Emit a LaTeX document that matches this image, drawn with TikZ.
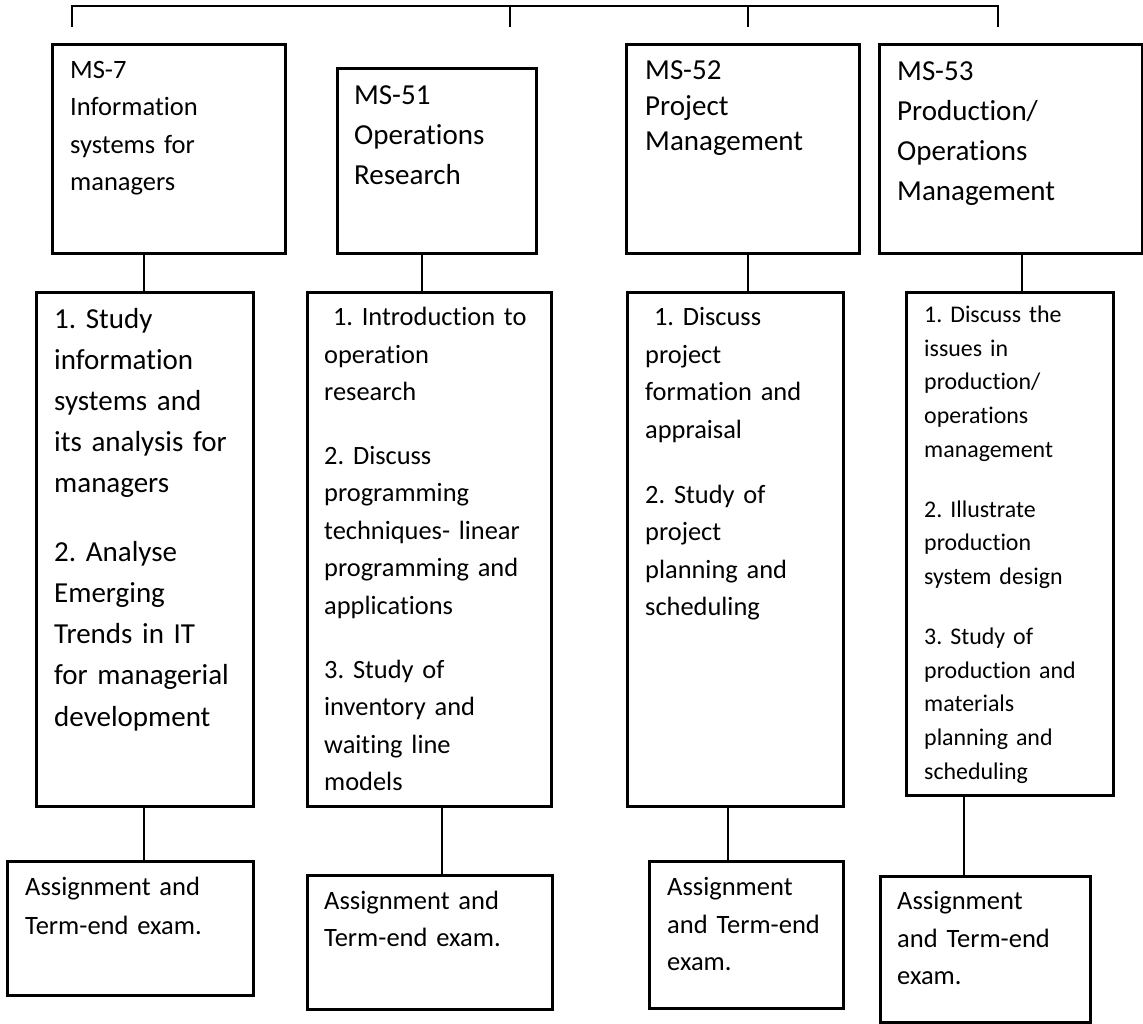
\documentclass[tikz,border=0pt]{standalone}
\usepackage{fontspec}
\setmainfont{Carlito}[Ligatures={NoCommon}]
\frenchspacing
\newcommand\fsz[2]{\fontsize{#1}{#2}\selectfont}
\newcommand\tp{\rule{0pt}{1em}}
\begin{document}
\begin{tikzpicture}[x=1pt,y=-1pt,
  box/.style={draw=black,line width=3.2pt,rectangle,inner sep=0pt,anchor=north west},
  conn/.style={draw=black,line width=1.4pt},
  bar/.style={draw=black,line width=1.5pt},
  txt/.style={anchor=north west,inner sep=0pt,text width=260pt,align=left}]
\useasboundingbox (0,0) rectangle (1143,1024);

% row 1 boxes
\node[box,minimum width=233pt,minimum height=209pt] (a1) at (50.6,42.6) {};
\node[box,minimum width=199pt,minimum height=185pt] (a2) at (335.6,66.6) {};
\node[box,minimum width=233pt,minimum height=209pt] (a3) at (624.6,42.6) {};
\node[box,minimum width=263pt,minimum height=209pt] (a4) at (877.6,42.6) {};
% row 2 boxes
\node[box,minimum width=217pt,minimum height=514pt] (b1) at (34.6,290.6) {};
\node[box,minimum width=244pt,minimum height=514pt] (b2) at (305.6,290.6) {};
\node[box,minimum width=216pt,minimum height=514pt] (b3) at (625.6,290.6) {};
\node[box,minimum width=207pt,minimum height=503pt] (b4) at (904.6,290.6) {};
% row 3 boxes
\node[box,minimum width=246pt,minimum height=134pt] (c1) at (5.6,859.6) {};
\node[box,minimum width=245pt,minimum height=134pt] (c2) at (305.6,873.6) {};
\node[box,minimum width=194pt,minimum height=147pt] (c3) at (647.6,859.6) {};
\node[box,minimum width=210pt,minimum height=146pt] (c4) at (878.6,874.6) {};

% top bar
\coordinate (tl) at (72,6);
\coordinate (tr) at (998,6);
\coordinate (t1) at (72,27);
\coordinate (t2) at (510,27);
\coordinate (t3) at (748,27);
\coordinate (t4) at (998,27);
\draw[bar] (t1) -- (tl) -- (tr) -- (t4);
\draw[bar] (t2) -- (t2 |- tl);
\draw[bar] (t3) -- (t3 |- tl);

% connector columns
\coordinate (k1) at (144,0);
\coordinate (k2) at (422,0);
\coordinate (k3) at (748,0);
\coordinate (k4) at (1022,0);
\coordinate (m1) at (144,0);
\coordinate (m2) at (442,0);
\coordinate (m3) at (728,0);
\coordinate (m4) at (964,0);
\draw[conn] (k1 |- a1.south) -- (k1 |- b1.north);
\draw[conn] (k2 |- a2.south) -- (k2 |- b2.north);
\draw[conn] (k3 |- a3.south) -- (k3 |- b3.north);
\draw[conn] (k4 |- a4.south) -- (k4 |- b4.north);
\draw[conn] (m1 |- b1.south) -- (m1 |- c1.north);
\draw[conn] (m2 |- b2.south) -- (m2 |- c2.north);
\draw[conn] (m3 |- b3.south) -- (m3 |- c3.north);
\draw[conn] (m4 |- b4.south) -- (m4 |- c4.north);

% row 1 texts
\node[txt,font=\fsz{26.5}{37.5}] (ta1) at (70,51.5) {\tp MS-7\\Information\\systems for\\managers};
\node[txt,font=\fsz{29}{40}] (ta2) at (354,75.8) {\tp MS-51\\Operations\\Research};
\node[txt,font=\fsz{29}{35.5}] (ta3) at (645,50.8) {\tp MS-52\\Project\\Management};
\node[txt,font=\fsz{29}{40}] (ta4) at (897,51.8) {\tp MS-53\\Production/\\Operations\\Management};

% row 2 texts
\node[txt,font=\fsz{29}{41.2}] (tb1) at (54,299) {\tp 1. Study\\information\\systems and\\its analysis for\\managers\\[27pt]2. Analyse\\Emerging\\Trends in IT\\for managerial\\development};
\node[txt,font=\fsz{26.4}{37.5}] (tb2) at (324,299) {\tp\ 1. Introduction to\\operation\\research\\[26pt]2. Discuss\\programming\\techniques- linear\\programming and\\applications\\[26.5pt]3. Study of\\inventory and\\waiting line\\models};
\node[txt,font=\fsz{26.4}{37.5}] (tb3) at (645,299) {\tp\ 1. Discuss\\project\\formation and\\appraisal\\[27.5pt]2. Study of\\project\\planning and\\scheduling};
\begin{scope}
\clip (904,290) rectangle (1111,783);
\node[txt,font=\fsz{23.9}{33.6}] (tb4) at (924,298.5) {\tp 1. Discuss the\\issues in\\production/\\operations\\management\\[26.4pt]2. Illustrate\\production\\system design\\[27pt]3. Study of\\production and\\materials\\planning and\\scheduling};
\end{scope}

% row 3 texts
\node[txt,font=\fsz{26.5}{38.5}] (tc1) at (25,869) {\tp Assignment and\\Term-end exam.};
\node[txt,font=\fsz{26.5}{37.6}] (tc2) at (324,882.6) {\tp Assignment and\\Term-end exam.};
\node[txt,font=\fsz{26.5}{37.5}] (tc3) at (667,869) {\tp Assignment\\and Term-end\\exam.};
\node[txt,font=\fsz{26.5}{37.5}] (tc4) at (897,883) {\tp Assignment\\and Term-end\\exam.};
\end{tikzpicture}
\end{document}
